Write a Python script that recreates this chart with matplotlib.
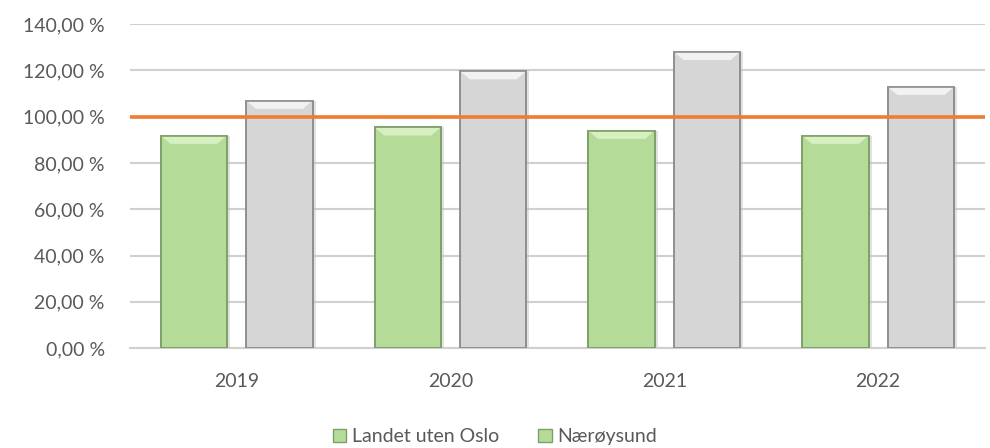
import numpy as np
import matplotlib.pyplot as plt
from matplotlib.patches import Patch, Polygon

years = ['2019', '2020', '2021', '2022']
landet = [91.8, 95.4, 93.9, 91.8]
naroysund = [106.9, 119.7, 128.0, 112.9]
ref_level = 100.0
yticks = [0, 20, 40, 60, 80, 100, 120, 140]

green, green_edge, green_hi = '#b4dc98', '#7f9f6a', '#d6f0c2'
grey, grey_edge, grey_hi = '#d6d6d6', '#8f8f8f', '#f2f2f2'
txt = '#595959'

plt.rcParams['font.family'] = ['Lato', 'DejaVu Sans']

fig = plt.figure(figsize=(9.9, 4.48), dpi=100)
ax = fig.add_axes([0.131, 0.223, 0.864, 0.723])

x = np.arange(len(years))
w = 0.31


def bevel_bars(xpos, vals, face, edge, hi):
    ax.bar(xpos + 0.014, vals, w, color='#c4c4c4', alpha=0.5, lw=0, zorder=2)
    bars = ax.bar(xpos, vals, w, color=face, edgecolor=edge, lw=1.2, zorder=3)
    for b in bars:
        x0, x1, top = b.get_x(), b.get_x() + b.get_width(), b.get_height()
        d = 0.045
        ax.add_patch(Polygon([(x0, top), (x1, top), (x1 - d, top - 3.5), (x0 + d, top - 3.5)],
                             closed=True, color=hi, lw=0, zorder=3.5))
        # redraw outline on top of the bevel
        ax.add_patch(plt.Rectangle((x0, 0), x1 - x0, top, fill=False,
                                   edgecolor=edge, lw=1.2, zorder=3.6))


bevel_bars(x - 0.2, landet, green, green_edge, green_hi)
bevel_bars(x + 0.2, naroysund, grey, grey_edge, grey_hi)
ax.axhline(ref_level, color='#ed7d31', lw=2.6, zorder=4)

ax.set_ylim(0, 140)
ax.set_xlim(-0.5, len(years) - 0.5)
ax.set_yticks(yticks)
ax.set_yticklabels(['{:.2f} %'.format(v).replace('.', ',') for v in yticks])
ax.set_xticks(x)
ax.set_xticklabels(years)
ax.yaxis.grid(True, color='#d0d0d0', lw=1.5, zorder=0)
ax.tick_params(length=0, labelsize=14, colors=txt)
ax.tick_params(axis='x', pad=18)
ax.tick_params(axis='y', pad=18)
for s in ['top', 'right', 'left']:
    ax.spines[s].set_visible(False)
ax.spines['bottom'].set_color('#d0d0d0')
ax.spines['bottom'].set_linewidth(1.5)

handles = [Patch(facecolor=green, edgecolor=green_edge, label='Landet uten Oslo'),
           Patch(facecolor=green, edgecolor=green_edge, label='Nærøysund')]
fig.legend(handles=handles, loc='center', bbox_to_anchor=(0.5, 0.025), ncol=2,
           frameon=False, fontsize=14, labelcolor=txt, handlelength=0.7,
           handleheight=0.7, handletextpad=0.3, columnspacing=2.0)

fig.savefig('out.png', dpi=100)
